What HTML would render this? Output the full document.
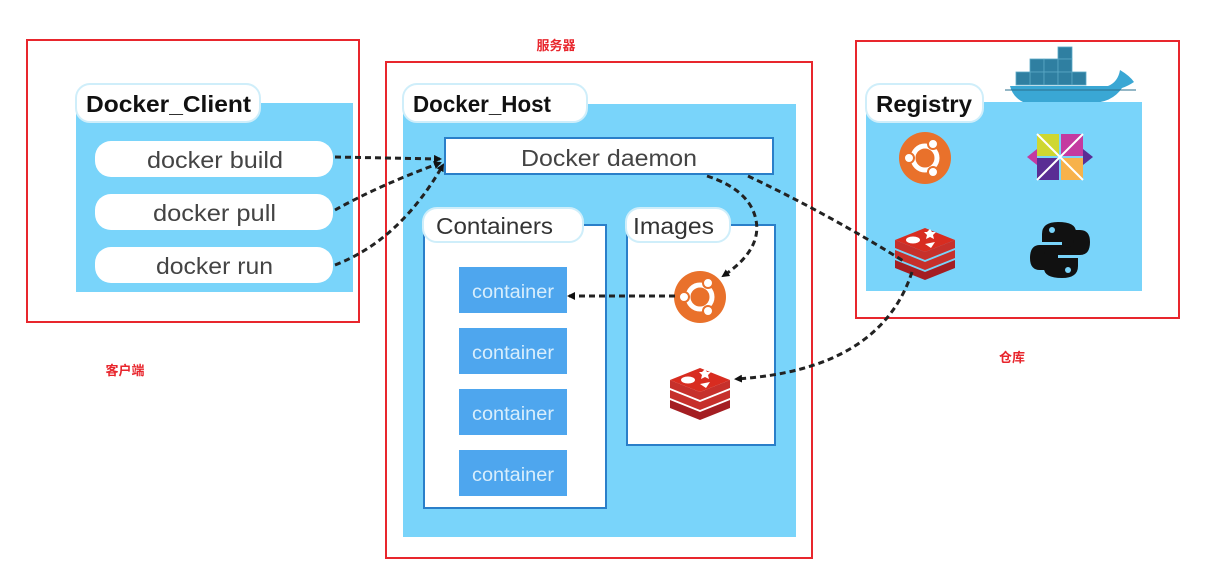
<!DOCTYPE html>
<html><head><meta charset="utf-8"><style>
html,body{margin:0;padding:0;background:#fff;}
svg{display:block;}
text{font-family:"Liberation Sans","Noto Sans CJK SC",sans-serif;}
</style></head><body>
<svg width="1222" height="582" viewBox="0 0 1222 582" xmlns="http://www.w3.org/2000/svg">
<defs>
<marker id="ah" markerWidth="8" markerHeight="8" refX="6" refY="4" orient="auto" markerUnits="userSpaceOnUse">
<path d="M0,0 L8,4 L0,8 Z" fill="#111"/></marker>
<g id="ubuntu">
<circle r="26" fill="#e9712b"/>
<circle r="12" fill="none" stroke="#fff" stroke-width="5"/>
<circle cx="-16" cy="0" r="5" fill="#fff" stroke="#e9712b" stroke-width="2"/>
<circle cx="8" cy="-14" r="5" fill="#fff" stroke="#e9712b" stroke-width="2"/>
<circle cx="8" cy="14" r="5" fill="#fff" stroke="#e9712b" stroke-width="2"/>
</g>
<g id="redis">
<path d="M-30,10 L0,22 L30,10 L30,18 L0,30 L-30,18Z" fill="#a41e22"/>
<path d="M-30,0 L0,12 L30,0 L30,8 L0,20 L-30,8Z" fill="#c6302b"/>
<path d="M-30,-10 L0,2 L30,-10 L30,-2 L0,10 L-30,-2Z" fill="#c6302b"/>
<path d="M-30,-10 L0,-22 L30,-10 L0,2Z" fill="#d82c20"/>
<ellipse cx="-12" cy="-10" rx="7" ry="3.5" fill="#fff"/>
<path d="M2,-18 l3,-3 l2,3 l4,0 l-3,3 l1,4 l-4,-2 l-4,2 l1,-4 l-3,-3z" fill="#fff"/>
<path d="M0,-6 L10,-8 L6,-2Z" fill="#fff"/>
</g>
</defs>

<!-- Client -->
<rect x="27" y="40" width="332" height="282" fill="none" stroke="#e8262d" stroke-width="2"/>
<rect x="76" y="103" width="277" height="189" fill="#79d4fa"/>
<rect x="76" y="84" width="184" height="38" rx="14" fill="#fff" stroke="#cfeefa" stroke-width="2"/>
<text x="86" y="112" font-size="23" font-weight="bold" fill="#111" textLength="165" lengthAdjust="spacingAndGlyphs">Docker_Client</text>
<g font-size="23" fill="#444">
<rect x="95" y="141" width="238" height="36" rx="16" fill="#fff"/>
<text x="147" y="168" textLength="136" lengthAdjust="spacingAndGlyphs">docker build</text>
<rect x="95" y="194" width="238" height="36" rx="16" fill="#fff"/>
<text x="153" y="221" textLength="123" lengthAdjust="spacingAndGlyphs">docker pull</text>
<rect x="95" y="247" width="238" height="36" rx="16" fill="#fff"/>
<text x="156" y="274" textLength="117" lengthAdjust="spacingAndGlyphs">docker run</text>
</g>
<text x="125" y="375" font-size="13" font-weight="bold" fill="#e8262d" text-anchor="middle">客户端</text>

<!-- Host -->
<text x="556" y="50" font-size="13" font-weight="bold" fill="#e8262d" text-anchor="middle">服务器</text>
<rect x="386" y="62" width="426" height="496" fill="none" stroke="#e8262d" stroke-width="2"/>
<rect x="403" y="104" width="393" height="433" fill="#79d4fa"/>
<rect x="403" y="84" width="184" height="38" rx="14" fill="#fff" stroke="#cfeefa" stroke-width="2"/>
<text x="413" y="112" font-size="23" font-weight="bold" fill="#111" textLength="138" lengthAdjust="spacingAndGlyphs">Docker_Host</text>
<rect x="445" y="138" width="328" height="36" fill="#fff" stroke="#2a7fc9" stroke-width="2"/>
<text x="521" y="166" font-size="23" fill="#444" textLength="176" lengthAdjust="spacingAndGlyphs">Docker daemon</text>

<rect x="424" y="225" width="182" height="283" fill="#fff" stroke="#2a7fc9" stroke-width="2"/>
<rect x="423" y="208" width="160" height="34" rx="14" fill="#fff" stroke="#cfeefa" stroke-width="2"/>
<text x="436" y="234" font-size="23" fill="#333" textLength="117" lengthAdjust="spacingAndGlyphs">Containers</text>
<rect x="627" y="225" width="148" height="220" fill="#fff" stroke="#2a7fc9" stroke-width="2"/>
<rect x="626" y="208" width="104" height="34" rx="14" fill="#fff" stroke="#cfeefa" stroke-width="2"/>
<text x="633" y="234" font-size="23" fill="#333" textLength="81" lengthAdjust="spacingAndGlyphs">Images</text>

<g font-size="19" fill="#d8eefc">
<rect x="459" y="267" width="108" height="46" fill="#4ea6ee"/><text x="472" y="298" textLength="82" lengthAdjust="spacingAndGlyphs">container</text>
<rect x="459" y="328" width="108" height="46" fill="#4ea6ee"/><text x="472" y="359" textLength="82" lengthAdjust="spacingAndGlyphs">container</text>
<rect x="459" y="389" width="108" height="46" fill="#4ea6ee"/><text x="472" y="420" textLength="82" lengthAdjust="spacingAndGlyphs">container</text>
<rect x="459" y="450" width="108" height="46" fill="#4ea6ee"/><text x="472" y="481" textLength="82" lengthAdjust="spacingAndGlyphs">container</text>
</g>
<use href="#ubuntu" x="700" y="297"/>
<use href="#redis" x="700" y="390"/>

<!-- Registry -->
<text x="1012" y="362" font-size="13" font-weight="bold" fill="#e8262d" text-anchor="middle">仓库</text>
<rect x="856" y="41" width="323" height="277" fill="none" stroke="#e8262d" stroke-width="2"/>
<g fill="#2f7fa1" stroke="#5aa9c6" stroke-width="0.8">
<rect x="1058" y="47" width="14" height="12"/>
<rect x="1030" y="59" width="14" height="13"/><rect x="1044" y="59" width="14" height="13"/><rect x="1058" y="59" width="14" height="13"/>
<rect x="1030" y="72" width="14" height="13"/><rect x="1044" y="72" width="14" height="13"/><rect x="1058" y="72" width="14" height="13"/><rect x="1072" y="72" width="14" height="13"/><rect x="1016" y="72" width="14" height="13"/>
</g>
<path d="M1010,86 L1108,86 Q1118,82 1120,70 Q1130,76 1134,82 Q1128,86 1122,88 Q1112,103 1090,103 L1025,103 Q1013,98 1010,86Z" fill="#3aa7d4"/>
<path d="M1005,90 L1136,90" stroke="#2a6f8c" stroke-width="1"/>
<rect x="866" y="102" width="276" height="189" fill="#79d4fa"/>
<rect x="866" y="84" width="117" height="38" rx="14" fill="#fff" stroke="#cfeefa" stroke-width="2"/>
<text x="876" y="112" font-size="23" font-weight="bold" fill="#111" textLength="96" lengthAdjust="spacingAndGlyphs">Registry</text>
<use href="#ubuntu" x="925" y="158"/>
<g transform="translate(1060,157)">
<rect x="-23" y="-23" width="22" height="22" fill="#cfd731"/>
<rect x="1" y="-23" width="22" height="22" fill="#c43aa0"/>
<rect x="-23" y="1" width="22" height="22" fill="#5a2d94"/>
<rect x="1" y="1" width="22" height="22" fill="#f7b24b"/>
<path d="M-33,0 L-23,-8 L-23,8Z" fill="#c43aa0"/><path d="M33,0 L23,-8 L23,8Z" fill="#5a2d94"/>
<path d="M-23,-23 L23,23 M23,-23 L-23,23" stroke="#fff" stroke-width="2"/>
</g>
<use href="#redis" x="925" y="250"/>
<g transform="translate(1060,250)" fill="#111">
<path d="M-2,-28 Q-18,-28 -18,-16 L-18,-8 L2,-8 L2,-5 L-20,-5 Q-30,-5 -30,8 Q-30,20 -20,20 L-14,20 L-14,10 Q-14,2 -4,2 L10,2 Q16,2 16,-5 L16,-18 Q16,-28 -2,-28Z"/>
<path d="M2,28 Q18,28 18,16 L18,8 L-2,8 L-2,5 L20,5 Q30,5 30,-8 Q30,-20 20,-20 L14,-20 L14,-10 Q14,-2 4,-2 L-10,-2 Q-16,-2 -16,5 L-16,18 Q-16,28 2,28Z"/>
<circle cx="-8" cy="-20" r="3" fill="#79d4fa"/><circle cx="8" cy="20" r="3" fill="#79d4fa"/>
</g>

<g fill="none" stroke="#222" stroke-width="3" stroke-dasharray="6,4">
<path d="M335,157 L440,159" marker-end="url(#ah)"/>
<path d="M335,210 Q380,185 440,163" marker-end="url(#ah)"/>
<path d="M335,265 Q400,240 443,165" marker-end="url(#ah)"/>
<path d="M707,176 Q750,190 756,220 Q762,250 723,276" marker-end="url(#ah)"/>
<path d="M675,296 L569,296" marker-end="url(#ah)"/>
<path d="M748,176 Q830,215 905,262"/>
<path d="M912,272 Q880,370 736,379" marker-end="url(#ah)"/>
</g>
</svg>
</body></html>
